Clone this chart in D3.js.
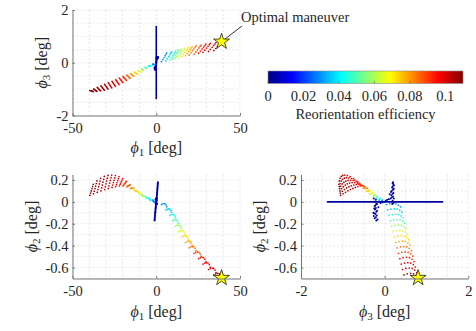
<!DOCTYPE html>
<html>
<head>
<meta charset="utf-8">
<script src="https://cdn.jsdelivr.net/npm/d3@7/dist/d3.min.js"></script>
<style>
  body { margin: 0; background: #fff; }
  svg text { font-family: "Liberation Serif", "Times New Roman", serif; fill: #262626; }
</style>
</head>
<body>
<div id="fig"></div>
<script>
// ---- values ----
// maneuvers with phi1 > 0 : one row per amplitude level, one column per sub-case
const rightEff = [0.030, 0.037, 0.044, 0.051, 0.058, 0.065, 0.072, 0.078, 0.084, 0.089, 0.094, 0.098, 0.102, 0.105];
const rightPhi1 = [
  [3.1, 3.9, 4.6, 5.3, 5.9, 6.3],
  [5.8, 6.6, 7.4, 8.1, 8.7, 9.1],
  [8.0, 8.8, 9.7, 10.4, 11.0, 11.5],
  [9.6, 10.5, 11.3, 12.1, 12.7, 13.1],
  [11.3, 12.2, 13.0, 13.8, 14.5, 14.9],
  [13.3, 14.2, 15.1, 15.9, 16.6, 17.1],
  [15.3, 16.2, 17.2, 18.0, 18.7, 19.2],
  [17.4, 18.4, 19.3, 20.2, 20.8, 21.4],
  [19.7, 20.7, 21.6, 22.5, 23.2, 23.8],
  [22.6, 23.6, 24.6, 25.5, 26.2, 26.8],
  [25.3, 26.3, 27.4, 28.3, 29.0, 29.6],
  [27.9, 29.0, 30.0, 30.9, 31.7, 32.3],
  [31.2, 32.3, 33.4, 34.3, 35.1, 35.7],
  [34.4, 35.5, 36.6, 37.6, 38.4, 39.0]
];
const rightPhi2 = [
  [-0.025, -0.018, -0.015, -0.018, -0.029, -0.045],
  [-0.074, -0.067, -0.064, -0.067, -0.078, -0.094],
  [-0.124, -0.116, -0.113, -0.116, -0.128, -0.145],
  [-0.173, -0.165, -0.162, -0.165, -0.177, -0.195],
  [-0.223, -0.215, -0.212, -0.215, -0.227, -0.245],
  [-0.272, -0.264, -0.261, -0.264, -0.276, -0.295],
  [-0.321, -0.313, -0.309, -0.313, -0.325, -0.345],
  [-0.371, -0.362, -0.359, -0.362, -0.375, -0.395],
  [-0.420, -0.411, -0.408, -0.411, -0.424, -0.445],
  [-0.470, -0.461, -0.457, -0.461, -0.475, -0.495],
  [-0.519, -0.510, -0.506, -0.510, -0.524, -0.545],
  [-0.568, -0.559, -0.555, -0.559, -0.573, -0.595],
  [-0.618, -0.608, -0.604, -0.608, -0.623, -0.645],
  [-0.667, -0.657, -0.653, -0.657, -0.672, -0.695]
];
const rightPhi3 = [
  [0.040, 0.120, 0.200, 0.270, 0.330, 0.380],
  [0.072, 0.152, 0.232, 0.302, 0.362, 0.412],
  [0.105, 0.185, 0.265, 0.335, 0.395, 0.445],
  [0.137, 0.217, 0.297, 0.367, 0.427, 0.477],
  [0.169, 0.249, 0.329, 0.399, 0.459, 0.509],
  [0.202, 0.282, 0.362, 0.432, 0.492, 0.542],
  [0.234, 0.314, 0.394, 0.464, 0.524, 0.574],
  [0.266, 0.346, 0.426, 0.496, 0.556, 0.606],
  [0.298, 0.378, 0.458, 0.528, 0.588, 0.638],
  [0.331, 0.411, 0.491, 0.561, 0.621, 0.671],
  [0.363, 0.443, 0.523, 0.593, 0.653, 0.703],
  [0.395, 0.475, 0.555, 0.625, 0.685, 0.735],
  [0.428, 0.508, 0.588, 0.658, 0.718, 0.768],
  [0.460, 0.540, 0.620, 0.690, 0.750, 0.800]
];

// maneuvers with phi1 < 0
const leftEff = [0.030, 0.040, 0.050, 0.058, 0.066, 0.073, 0.080, 0.086, 0.091, 0.095, 0.098, 0.101, 0.103, 0.105, 0.106, 0.107, 0.108, 0.109];
const leftPhi1 = [
  [-2.2, -2.0, -1.8, -1.6, -1.4, -1.2],
  [-4.4, -4.2, -4.0, -3.8, -3.6, -3.4],
  [-6.6, -6.4, -6.2, -6.0, -5.8, -5.6],
  [-8.8, -8.6, -8.4, -8.2, -8.0, -7.8],
  [-11.0, -10.6, -10.2, -9.8, -9.4, -9.0],
  [-13.2, -12.8, -12.4, -12.0, -11.6, -11.2],
  [-15.4, -15.0, -14.6, -14.2, -13.8, -13.4],
  [-17.6, -17.2, -16.8, -16.4, -16.0, -15.6],
  [-19.8, -19.4, -19.0, -18.6, -18.2, -17.8],
  [-22.0, -21.6, -21.2, -20.8, -20.4, -20.0],
  [-24.2, -23.8, -23.4, -23.0, -22.6, -22.2],
  [-26.4, -26.0, -25.6, -25.2, -24.8, -24.4],
  [-28.6, -28.2, -27.8, -27.4, -27.0, -26.6],
  [-30.8, -30.4, -30.0, -29.6, -29.2, -28.8],
  [-33.0, -32.6, -32.2, -31.8, -31.4, -31.0],
  [-35.2, -34.8, -34.4, -34.0, -33.6, -33.2],
  [-37.4, -37.0, -36.6, -36.2, -35.8, -35.4],
  [-39.6, -39.2, -38.8, -38.4, -38.0, -37.6]
];
const leftPhi2 = [
  [0.017, 0.013, 0.009, 0.005, 0.001, -0.003],
  [0.034, 0.030, 0.026, 0.022, 0.018, 0.014],
  [0.051, 0.047, 0.043, 0.039, 0.035, 0.031],
  [0.069, 0.065, 0.061, 0.057, 0.053, 0.049],
  [0.087, 0.084, 0.080, 0.077, 0.073, 0.070],
  [0.105, 0.103, 0.101, 0.099, 0.097, 0.095],
  [0.123, 0.123, 0.124, 0.124, 0.125, 0.125],
  [0.138, 0.142, 0.146, 0.149, 0.153, 0.157],
  [0.146, 0.154, 0.163, 0.171, 0.180, 0.188],
  [0.145, 0.159, 0.172, 0.186, 0.199, 0.213],
  [0.140, 0.158, 0.176, 0.195, 0.213, 0.231],
  [0.132, 0.154, 0.176, 0.197, 0.219, 0.241],
  [0.123, 0.147, 0.172, 0.196, 0.221, 0.245],
  [0.113, 0.139, 0.165, 0.190, 0.216, 0.242],
  [0.101, 0.127, 0.153, 0.180, 0.206, 0.232],
  [0.088, 0.113, 0.139, 0.164, 0.190, 0.215],
  [0.074, 0.097, 0.121, 0.144, 0.168, 0.191],
  [0.060, 0.080, 0.100, 0.120, 0.140, 0.160]
];
const leftPhi3 = [
  [-0.059, -0.061, -0.063, -0.065, -0.067, -0.069],
  [-0.117, -0.121, -0.125, -0.129, -0.133, -0.137],
  [-0.176, -0.182, -0.188, -0.194, -0.200, -0.206],
  [-0.234, -0.242, -0.250, -0.258, -0.266, -0.274],
  [-0.293, -0.305, -0.317, -0.329, -0.341, -0.353],
  [-0.351, -0.367, -0.383, -0.399, -0.415, -0.431],
  [-0.410, -0.430, -0.450, -0.470, -0.490, -0.510],
  [-0.468, -0.492, -0.516, -0.540, -0.564, -0.588],
  [-0.527, -0.555, -0.583, -0.611, -0.639, -0.667],
  [-0.585, -0.617, -0.649, -0.681, -0.713, -0.745],
  [-0.644, -0.680, -0.716, -0.752, -0.788, -0.824],
  [-0.702, -0.740, -0.778, -0.816, -0.854, -0.892],
  [-0.761, -0.799, -0.837, -0.875, -0.913, -0.951],
  [-0.819, -0.855, -0.891, -0.927, -0.963, -0.999],
  [-0.878, -0.910, -0.942, -0.974, -1.006, -1.038],
  [-0.936, -0.962, -0.988, -1.014, -1.040, -1.066],
  [-0.995, -1.013, -1.031, -1.049, -1.067, -1.085],
  [-1.053, -1.061, -1.069, -1.077, -1.085, -1.093]
];

// near-zero-efficiency cases: [phi1, phi2, phi3]
const blobPoints = [
  [-1.0, -0.17, -0.20], [-0.95, -0.16, -0.17], [-0.9, -0.15, -0.24], [-0.85, -0.14, -0.21],
  [-0.8, -0.13, -0.26], [-0.75, -0.125, -0.19], [-0.7, -0.11, -0.22], [-0.65, -0.105, -0.25],
  [-0.6, -0.10, -0.27], [-0.55, -0.09, -0.20], [-0.5, -0.08, -0.18], [-0.45, -0.07, -0.23],
  [-0.4, -0.06, -0.25], [-0.35, -0.055, -0.21], [-0.3, -0.05, -0.15], [-0.25, -0.04, -0.24],
  [-0.2, -0.03, -0.22], [-0.15, -0.02, -0.18], [-0.1, -0.01, -0.10], [-0.05, -0.005, -0.05],
  [0.0, 0.0, 0.0], [0.05, 0.01, 0.03], [0.1, 0.02, 0.06], [0.15, 0.025, 0.10],
  [0.2, 0.03, 0.14], [0.25, 0.04, 0.17], [0.3, 0.05, 0.20], [0.35, 0.06, 0.16],
  [0.4, 0.07, 0.12], [0.45, 0.075, 0.19], [0.5, 0.08, 0.21], [0.55, 0.09, 0.15],
  [0.6, 0.10, 0.17], [0.65, 0.11, 0.20], [0.7, 0.12, 0.22], [0.75, 0.13, 0.18],
  [0.8, 0.14, 0.19], [0.85, 0.15, 0.22], [0.9, 0.16, 0.21], [0.95, 0.17, 0.19],
  [1.0, 0.18, 0.20], [-0.5, 0.02, -0.21], [-0.2, 0.03, -0.26], [-0.4, -0.02, -0.20],
  [-0.3, 0.0, -0.24], [0.5, -0.02, 0.18], [0.2, -0.01, 0.21], [0.3, 0.01, 0.19], [0.4, 0.03, 0.22]
];
const blobEff = 0.004;
const pureRotation = [[0, 0, -1.38], [0, 0, 1.40]];
const pureEff = 0.003;
const optimal = [39.0, -0.695, 0.80];

const phi1Ticks = [-50, 0, 50];
const phi3Ticks = [-2, 0, 2];
const phi2Ticks = [-0.6, -0.4, -0.2, 0, 0.2];
const phi1Grid = [-50, -40, -30, -20, -10, 0, 10, 20, 30, 40, 50];
const phi3Grid = [-2, -1.5, -1, -0.5, 0, 0.5, 1, 1.5, 2];
const phi2Grid = [-0.7, -0.6, -0.5, -0.4, -0.3, -0.2, -0.1, 0, 0.1, 0.2];
const effTicks = [0, 0.02, 0.04, 0.06, 0.08, 0.1];

// ---- drawing ----
const width = 476, height = 331;
const svg = d3.select('#fig').append('svg').attr('width', width).attr('height', height);

const effMax = 0.11;
const jet = d3.scaleLinear()
  .domain([0, 0.125, 0.375, 0.625, 0.875, 1].map(t => t * effMax))
  .range(['#000084', '#0000ff', '#00ffff', '#ffff00', '#ff0000', '#800000'])
  .clamp(true);

function toPoints(r1, r2, r3, eff) {
  return r1.flatMap((row, k) => row.map((v, j) => ({ p1: v, p2: r2[k][j], p3: r3[k][j], e: eff[k] })));
}
const points = toPoints(leftPhi1, leftPhi2, leftPhi3, leftEff)
  .concat(toPoints(rightPhi1, rightPhi2, rightPhi3, rightEff));
const blob = blobPoints.map(d => ({ p1: d[0], p2: d[1], p3: d[2], e: blobEff }));
const pure = pureRotation.map(d => ({ p1: d[0], p2: d[1], p3: d[2] }));
const star = { p1: optimal[0], p2: optimal[1], p3: optimal[2] };

const panels = [
  { xKey: 'p1', yKey: 'p3', xDom: [-50, 50], yDom: [-2, 2], left: 72.5, right: 240, top: 10, bottom: 115.5,
    xTicks: phi1Ticks, yTicks: phi3Ticks, xGrid: phi1Grid, yGrid: phi3Grid, xSub: '1', ySub: '3', yLabelX: 46.5, xLabelY: 153 },
  { xKey: 'p1', yKey: 'p2', xDom: [-50, 50], yDom: [-0.7, 0.25], left: 72.5, right: 240, top: 174.5, bottom: 278.5,
    xTicks: phi1Ticks, yTicks: phi2Ticks, xGrid: phi1Grid, yGrid: phi2Grid, xSub: '1', ySub: '2', yLabelX: 36.5, xLabelY: 317 },
  { xKey: 'p3', yKey: 'p2', xDom: [-2, 2], yDom: [-0.7, 0.25], left: 301, right: 468.3, top: 174.5, bottom: 278.5,
    xTicks: phi3Ticks, yTicks: phi2Ticks, xGrid: phi3Grid, yGrid: phi2Grid, xSub: '3', ySub: '2', yLabelX: 264.5, xLabelY: 317 }
];

function axisLabel(sel, sub) {
  sel.attr('text-anchor', 'middle').attr('font-size', 16);
  sel.append('tspan').attr('font-style', 'italic').text('ϕ');
  sel.append('tspan').attr('font-size', 11).attr('dy', 3).text(sub);
  sel.append('tspan').attr('dy', -3).text(' [deg]');
}

panels.forEach((p, i) => {
  const x = d3.scaleLinear().domain(p.xDom).range([p.left, p.right]);
  const y = d3.scaleLinear().domain(p.yDom).range([p.bottom, p.top]);
  const g = svg.append('g');

  // grid
  g.append('g').selectAll('line').data(p.xGrid).join('line')
    .attr('x1', d => x(d)).attr('x2', d => x(d)).attr('y1', p.top).attr('y2', p.bottom)
    .attr('stroke', '#d9d9d9').attr('stroke-width', 0.6).attr('stroke-dasharray', '2,2');
  g.append('g').selectAll('line').data(p.yGrid).join('line')
    .attr('y1', d => y(d)).attr('y2', d => y(d)).attr('x1', p.left).attr('x2', p.right)
    .attr('stroke', '#d9d9d9').attr('stroke-width', 0.6).attr('stroke-dasharray', '2,2');

  // maneuvers
  g.append('g').selectAll('circle').data(points).join('circle')
    .attr('cx', d => x(d[p.xKey])).attr('cy', d => y(d[p.yKey]))
    .attr('r', 0.85).attr('fill', d => jet(d.e));

  g.append('path').datum(pure)
    .attr('d', d3.line().x(d => x(d[p.xKey])).y(d => y(d[p.yKey])))
    .attr('fill', 'none').attr('stroke', jet(pureEff)).attr('stroke-width', 1.6);

  g.append('g').selectAll('circle').data(blob).join('circle')
    .attr('cx', d => x(d[p.xKey])).attr('cy', d => y(d[p.yKey]))
    .attr('r', 1.0).attr('fill', d => jet(d.e));

  const sx = x(star[p.xKey]), sy = y(star[p.yKey]);
  if (i === 0) {
    g.append('line').attr('x1', sx).attr('y1', sy).attr('x2', 242).attr('y2', 26)
      .attr('stroke', '#000').attr('stroke-width', 0.8);
    g.append('text').attr('x', 241).attr('y', 22).attr('font-size', 14.5).text('Optimal maneuver');
  }
  g.append('path').attr('d', d3.symbol(d3.symbolStar, 78)())
    .attr('transform', `translate(${sx},${sy})`)
    .attr('fill', '#ffff00').attr('stroke', '#000').attr('stroke-width', 0.7);

  // axes
  const xa = g.append('g').attr('transform', `translate(0,${p.bottom})`)
    .call(d3.axisBottom(x).tickValues(p.xTicks).tickSize(-2.5).tickSizeOuter(0).tickPadding(7).tickFormat(d => String(d)));
  const ya = g.append('g').attr('transform', `translate(${p.left},0)`)
    .call(d3.axisLeft(y).tickValues(p.yTicks).tickSize(-2.5).tickSizeOuter(0).tickPadding(4).tickFormat(d => String(d)));
  [xa, ya].forEach(a => {
    a.attr('font-size', 14.5);
    a.select('.domain').attr('stroke', '#777');
    a.selectAll('.tick line').attr('stroke', '#777');
  });

  g.append('text').attr('x', (p.left + p.right) / 2).attr('y', p.xLabelY).call(axisLabel, p.xSub);
  g.append('text').attr('transform', `translate(${p.yLabelX},${(p.top + p.bottom) / 2}) rotate(-90)`).call(axisLabel, p.ySub);
});

// colorbar
const cb = d3.scaleLinear().domain([0, effMax]).range([268, 463]);
const grad = svg.append('defs').append('linearGradient').attr('id', 'jet');
grad.selectAll('stop').data(jet.domain()).join('stop')
  .attr('offset', d => d / effMax).attr('stop-color', d => jet(d));
svg.append('rect').attr('x', cb(0)).attr('y', 71).attr('width', cb(effMax) - cb(0)).attr('height', 12.5)
  .attr('fill', 'url(#jet)').attr('stroke', '#8c8c8c').attr('stroke-width', 0.6);
svg.append('g').selectAll('line').data(effTicks).join('line')
  .attr('x1', d => cb(d)).attr('x2', d => cb(d)).attr('y1', 83.5).attr('y2', 81)
  .attr('stroke', '#555').attr('stroke-width', 0.6);
svg.append('g').selectAll('text').data(effTicks).join('text')
  .attr('x', d => cb(d)).attr('y', 101).attr('text-anchor', 'middle').attr('font-size', 14.5)
  .text(d => String(d));
svg.append('text').attr('x', (cb(0) + cb(effMax)) / 2).attr('y', 119).attr('text-anchor', 'middle')
  .attr('font-size', 14.5).text('Reorientation efficiency');
</script>
</body>
</html>
